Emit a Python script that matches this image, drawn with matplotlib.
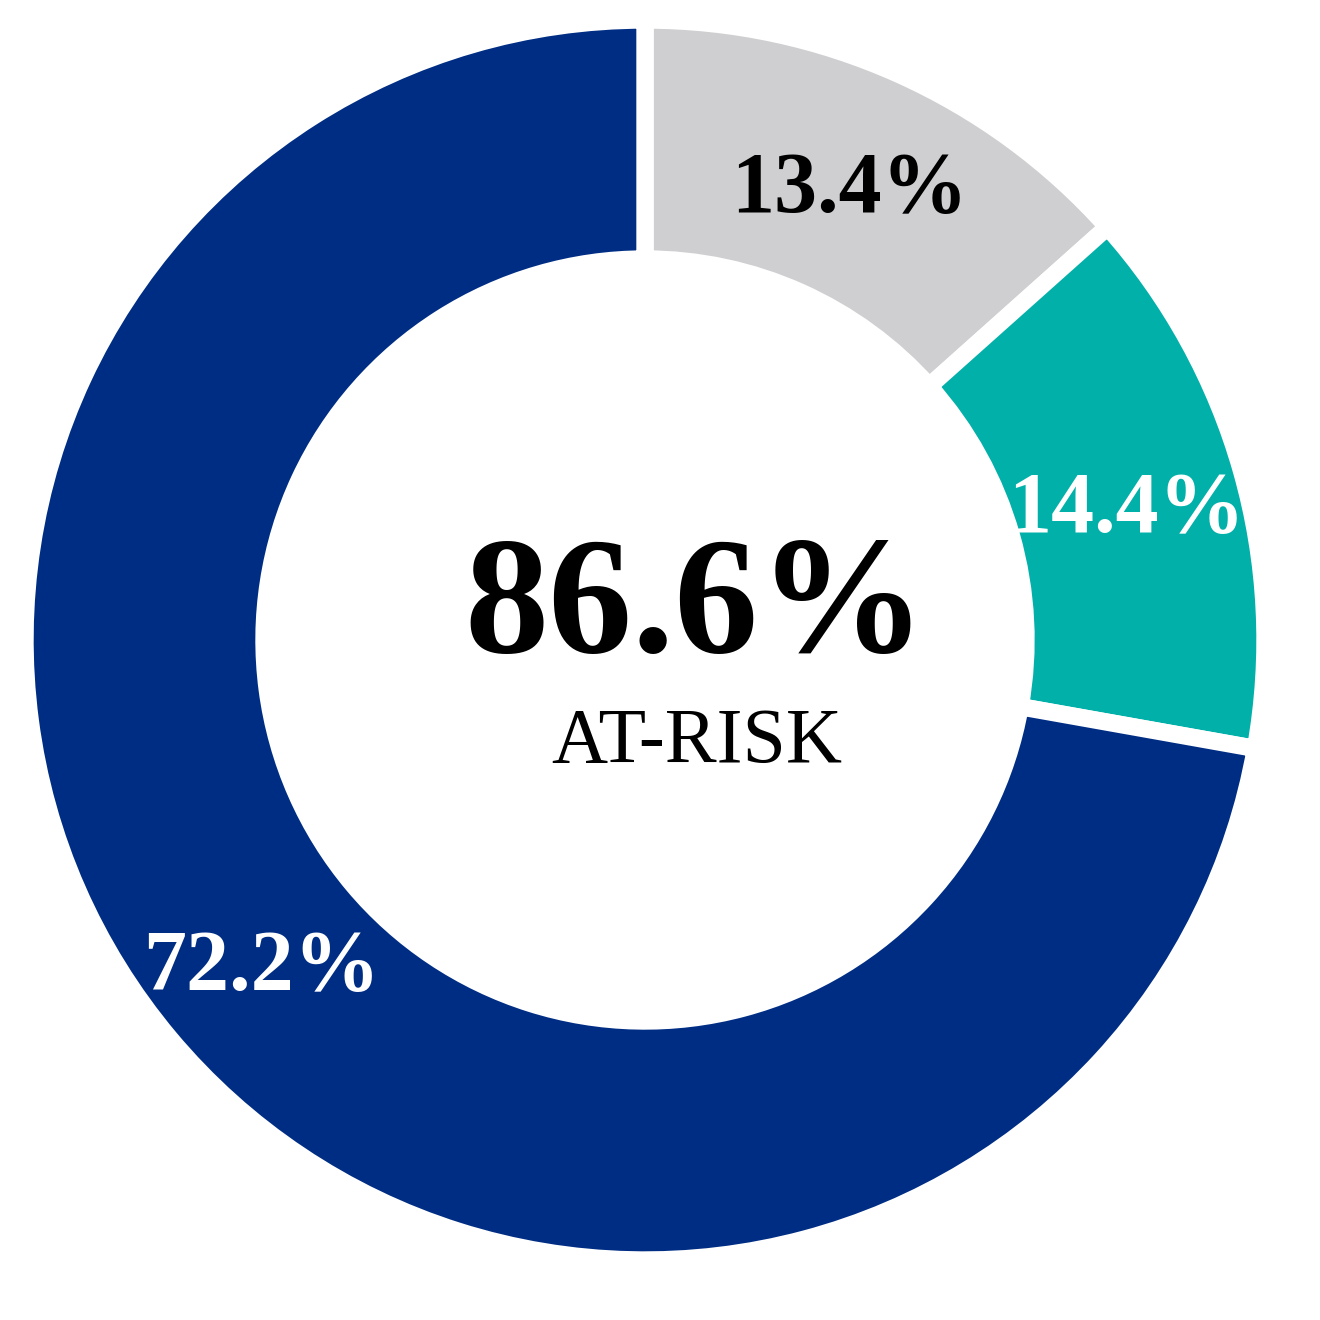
import matplotlib.pyplot as plt

# slices, clockwise from 12 o'clock
labels = ['Other', 'Teal', 'Navy']
values = [13.4, 14.4, 72.2]
colors = ['#cfcfd1', '#02b0aa', '#002d84']
label_colors = ['black', 'white', 'white']
center_value = '86.6%'
center_label = 'AT-RISK'

plt.rcParams['font.family'] = ['Liberation Serif', 'DejaVu Serif']

fig = plt.figure(figsize=(13.2, 13.2), dpi=100)
ax = fig.add_axes([0, 0, 1, 1])

R = 620
wedges, texts, autotexts = ax.pie(
    values, colors=colors, startangle=90, counterclock=False,
    center=(645, 680), radius=R, autopct='%.1f%%', pctdistance=0.807,
    wedgeprops=dict(width=239, edgecolor='white', linewidth=12.5),
    textprops=dict(fontsize=62, fontweight='bold'))
for t, c in zip(autotexts, label_colors):
    t.set_color(c)
    x, y = t.get_position()
    t.set_position((x, y - 8))

# pie() resets the limits, so set them afterwards (1 unit = 1 pixel)
ax.set_xlim(0, 1320)
ax.set_ylim(0, 1320)
ax.set_aspect('equal')
ax.axis('off')

ax.text(695, 708, center_value, ha='center', va='center',
        fontsize=121, fontweight='bold', color='black')
ax.text(697, 577, center_label, ha='center', va='center',
        fontsize=56, color='black')

plt.savefig('out.png', dpi=100)
